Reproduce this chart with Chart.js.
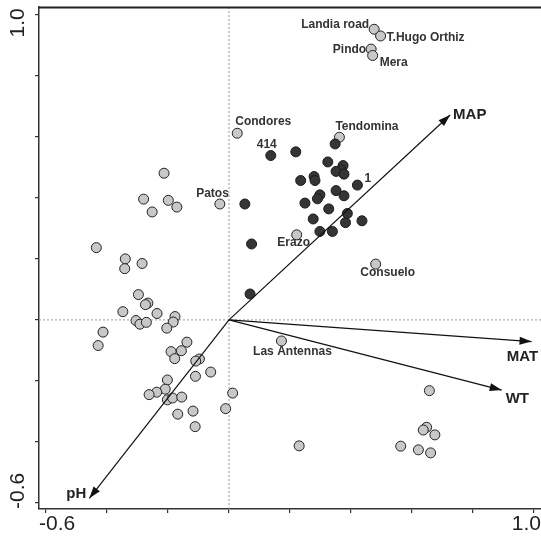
<!DOCTYPE html>
<html>
<head>
<meta charset="utf-8">
<script src="https://cdn.jsdelivr.net/npm/chart.js@4"></script>
<style>
  html, body { margin: 0; padding: 0; background: #fff; overflow: hidden; }
  #wrap { width: 541px; height: 540px; position: relative; }
  canvas { display: block; }
</style>
</head>
<body>
<div id="wrap"><canvas id="chartCCA"></canvas></div>
<script>
// sites without label (light grey)
const lightX = [-0.213, -0.280, -0.199, -0.171, -0.252, -0.435, -0.340, -0.342, -0.285, -0.297,
  -0.266, -0.274, -0.348, -0.236, -0.177, -0.183, -0.305, -0.292, -0.271, -0.204,
  -0.413, -0.429, -0.138, -0.156, -0.190, -0.178, -0.097, -0.109, -0.060, -0.110,
  -0.202, -0.209, -0.237, -0.262, -0.202, -0.185, -0.155, 0.012, -0.011, -0.118,
  -0.168, -0.111, 0.230, 0.657, 0.648, 0.637, 0.675, 0.563, 0.621, 0.661];
const lightY = [0.481, 0.396, 0.392, 0.370, 0.354, 0.237, 0.200, 0.168, 0.185, 0.083,
  0.055, 0.050, 0.027, 0.021, 0.011, -0.007, -0.002, -0.014, -0.008, -0.027,
  -0.040, -0.084, -0.073, -0.101, -0.104, -0.127, -0.128, -0.135, -0.171, -0.185,
  -0.197, -0.227, -0.237, -0.245, -0.262, -0.256, -0.253, -0.240, -0.291, -0.299,
  -0.309, -0.350, -0.413, -0.232, -0.352, -0.361, -0.377, -0.414, -0.426, -0.436];

// sites without label (dark)
const darkX = [0.219, 0.348, 0.324, 0.374, 0.367, 0.351, 0.377, 0.279, 0.282, 0.235,
  0.052, 0.249, 0.298, 0.290, 0.351, 0.377, 0.327, 0.388, 0.382, 0.436,
  0.276, 0.298, 0.339, 0.074, 0.069];
const darkY = [0.551, 0.577, 0.518, 0.506, 0.492, 0.487, 0.478, 0.470, 0.457, 0.457,
  0.380, 0.383, 0.410, 0.397, 0.424, 0.407, 0.364, 0.349, 0.319, 0.325,
  0.331, 0.290, 0.290, 0.249, 0.085];

// labelled sites
const siteNames = ['Landia road', 'T.Hugo Orthiz', 'Pindo', 'Mera', 'Condores', 'Tendomina',
  'Patos', 'Erazo', 'Consuelo', 'Las Antennas', '414', '1'];
const siteX = [0.476, 0.497, 0.466, 0.471, 0.027, 0.362, -0.030, 0.222, 0.481, 0.172, 0.137, 0.421];
const siteY = [0.953, 0.931, 0.888, 0.867, 0.612, 0.599, 0.380, 0.279, 0.183, -0.069, 0.539, 0.442];
const siteGroup = ['light', 'light', 'light', 'light', 'light', 'light',
  'light', 'light', 'light', 'light', 'dark', 'dark'];

// environmental vectors
const varNames = ['MAP', 'MAT', 'WT', 'pH'];
const varX = [0.725, 0.992, 0.894, -0.458];
const varY = [0.672, -0.071, -0.230, -0.585];

// axis
const tickValues = [-0.6, -0.4, -0.2, 0, 0.2, 0.4, 0.6, 0.8, 1.0];
const tickLabels = ['-0.6', '1.0'];

const lightPts = lightX.map((x, i) => ({ x, y: lightY[i] }));
const darkPts = darkX.map((x, i) => ({ x, y: darkY[i] }));
siteNames.forEach((n, i) => {
  const p = { x: siteX[i], y: siteY[i] };
  if (siteGroup[i] === 'dark') darkPts.push(p); else lightPts.push(p);
});

// placement of labels: align, dx, dy (px)
const sitePlace = {
  'Landia road': ['right', -5, -5],
  'T.Hugo Orthiz': ['left', 6, 2],
  'Pindo': ['right', -5, 1],
  'Mera': ['left', 7, 7],
  'Condores': ['left', -2, -12],
  'Tendomina': ['left', -4, -11],
  'Patos': ['right', 9, -10],
  'Erazo': ['center', -3, 8],
  'Consuelo': ['center', 12, 9],
  'Las Antennas': ['center', 11, 11],
  '414': ['center', -4, -11],
  '1': ['left', 7, -6]
};
const varPlace = {
  'MAP': ['left', 3, 0],
  'MAT': ['center', -9, 15],
  'WT': ['left', 4, 9],
  'pH': ['right', -3, -4]
};

const biplot = {
  id: 'biplot',
  beforeDatasetsDraw(chart) {
    const { ctx, chartArea: a, scales: { x, y } } = chart;
    ctx.save();
    // dotted zero lines
    ctx.strokeStyle = '#9a9a9a';
    ctx.lineWidth = 1;
    ctx.setLineDash([2, 2]);
    ctx.beginPath();
    ctx.moveTo(x.getPixelForValue(0), a.top);
    ctx.lineTo(x.getPixelForValue(0), a.bottom);
    ctx.moveTo(a.left, y.getPixelForValue(0));
    ctx.lineTo(a.right, y.getPixelForValue(0));
    ctx.stroke();
    ctx.setLineDash([]);
    // top frame line
    ctx.strokeStyle = '#222';
    ctx.lineWidth = 2;
    ctx.beginPath();
    ctx.moveTo(a.left, a.top + 0.5);
    ctx.lineTo(a.right, a.top + 0.5);
    ctx.stroke();
    ctx.restore();
  },
  afterDatasetsDraw(chart) {
    const { ctx, chartArea: a, scales: { x, y } } = chart;
    ctx.save();
    const ox = x.getPixelForValue(0), oy = y.getPixelForValue(0);
    // arrow heads + labels
    varNames.forEach((n, i) => {
      const tx = x.getPixelForValue(varX[i]), ty = y.getPixelForValue(varY[i]);
      const ang = Math.atan2(ty - oy, tx - ox);
      const L = 12, W = 4;
      ctx.fillStyle = '#111';
      ctx.beginPath();
      ctx.moveTo(tx, ty);
      ctx.lineTo(tx - L * Math.cos(ang) + W * Math.sin(ang), ty - L * Math.sin(ang) - W * Math.cos(ang));
      ctx.lineTo(tx - L * Math.cos(ang) - W * Math.sin(ang), ty - L * Math.sin(ang) + W * Math.cos(ang));
      ctx.closePath();
      ctx.fill();
      const pl = varPlace[n];
      ctx.font = 'bold 15px "Liberation Sans", Arial, sans-serif';
      ctx.fillStyle = '#222';
      ctx.textAlign = pl[0];
      ctx.textBaseline = 'middle';
      ctx.fillText(n, tx + pl[1], ty + pl[2]);
    });
    // site labels
    ctx.font = 'bold 12px "Liberation Sans", Arial, sans-serif';
    ctx.fillStyle = '#333';
    ctx.textBaseline = 'middle';
    siteNames.forEach((n, i) => {
      const pl = sitePlace[n];
      ctx.textAlign = pl[0];
      ctx.fillText(n, x.getPixelForValue(siteX[i]) + pl[1], y.getPixelForValue(siteY[i]) + pl[2]);
    });
    // axis tick labels (only ends)
    ctx.font = '21px "Liberation Sans", Arial, sans-serif';
    ctx.fillStyle = '#222';
    ctx.textBaseline = 'middle';
    ctx.textAlign = 'left';
    ctx.fillText(tickLabels[0], x.getPixelForValue(-0.6) - 7, a.bottom + 15);
    ctx.textAlign = 'right';
    ctx.fillText(tickLabels[1], x.getPixelForValue(1.0) + 7, a.bottom + 15);
    // rotated y labels
    ctx.save();
    ctx.translate(18.5, y.getPixelForValue(1.0) + 8);
    ctx.rotate(-Math.PI / 2);
    ctx.textAlign = 'center';
    ctx.fillText(tickLabels[1], 0, 0);
    ctx.restore();
    ctx.save();
    ctx.translate(18.5, y.getPixelForValue(-0.6) - 12);
    ctx.rotate(-Math.PI / 2);
    ctx.textAlign = 'center';
    ctx.fillText(tickLabels[0], 0, 0);
    ctx.restore();
    ctx.restore();
  }
};

const arrowSets = varNames.map((n, i) => ({
  label: n,
  data: [{ x: 0, y: 0 }, { x: varX[i], y: varY[i] }],
  showLine: true,
  borderColor: '#111',
  borderWidth: 1.2,
  pointRadius: 0,
  order: 0
}));

const axisCommon = {
  type: 'linear',
  afterBuildTicks: s => { s.ticks = tickValues.map(v => ({ value: v })); },
  ticks: { display: false },
  grid: { drawOnChartArea: false, drawTicks: true, tickLength: 4, color: '#333', lineWidth: 1.2 },
  border: { display: true, color: '#333', width: 1.5 }
};

new Chart(document.getElementById('chartCCA'), {
  type: 'scatter',
  data: {
    datasets: [
      ...arrowSets,
      { label: 'dark', data: darkPts, backgroundColor: '#353535', borderColor: '#1a1a1a', borderWidth: 1, pointRadius: 5, order: 1 },
      { label: 'light', data: lightPts, backgroundColor: '#c8c8c8', borderColor: '#222', borderWidth: 1, pointRadius: 5, order: 2 }
    ]
  },
  options: {
    responsive: true,
    maintainAspectRatio: false,
    animation: false,
    layout: { autoPadding: false, padding: { top: 7, right: 0, left: 0, bottom: 0 } },
    plugins: { legend: { display: false }, tooltip: { enabled: false } },
    scales: {
      x: { ...axisCommon, min: -0.623, max: 1.023, afterFit: s => { s.height = 31; } },
      y: { ...axisCommon, min: -0.620, max: 1.026, afterFit: s => { s.width = 39; } }
    }
  },
  plugins: [biplot]
});
</script>
</body>
</html>
